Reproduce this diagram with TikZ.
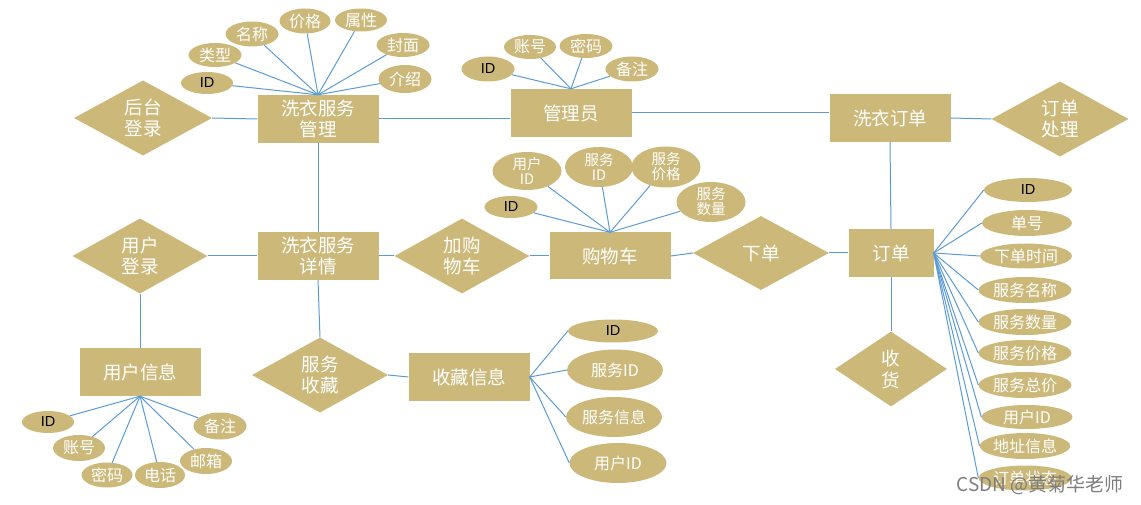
\documentclass[tikz,border=0pt]{standalone}
\usepackage{fontspec}
\setmainfont{Liberation Sans}
\newfontfamily\cjk{Noto Sans CJK SC}
\usetikzlibrary{shapes.geometric}
\definecolor{ertan}{RGB}{204,185,122}
\definecolor{erline}{RGB}{91,155,213}
\definecolor{wmgray}{RGB}{125,125,125}
\begin{document}
\begin{tikzpicture}[x=1pt,y=-1pt,
 ent/.style={rectangle,fill=ertan,inner sep=0pt,minimum width=121pt,minimum height=48pt,text=white,align=center,font=\cjk\fontsize{18.5}{21}\selectfont},
 rel/.style={diamond,fill=ertan,inner sep=0pt,minimum width=136pt,minimum height=75pt,text=white,align=center,font=\cjk\fontsize{18.5}{21}\selectfont},
 att/.style={ellipse,fill=ertan,inner sep=0pt,minimum width=53pt,minimum height=25pt,text=white,align=center,font=\cjk\fontsize{16}{18}\selectfont},
 att2/.style={att,inner sep=-3pt,font=\cjk\fontsize{14.5}{15}\selectfont},
 idt/.style={att,text=black,font=\fontsize{14.5}{16}\selectfont},
 link/.style={draw=erline,line width=1pt}]
\useasboundingbox (0,0) rectangle (1141,505);

% --- service management ---
\node[ent] (mgmt) at (318,119) {洗衣服务\\管理};
\node[rel,minimum width=138pt] (backlogin) at (143,118) {后台\\登录};
\node[idt,minimum width=52pt,minimum height=22pt] (m1) at (207,83) {ID};
\node[att,minimum height=24pt] (m2) at (215,55) {类型};
\node[att] (m3) at (252,34) {名称};
\node[att,minimum width=51pt] (m4) at (305,21) {价格};
\node[att,minimum width=52pt,minimum height=23pt] (m5) at (361,20) {属性};
\node[att,minimum height=24pt] (m6) at (403,45) {封面};
\node[att,minimum height=28pt] (m7) at (405,79) {介绍};

% --- admin ---
\node[ent] (admin) at (571,113) {管理员};
\node[idt] (a1) at (488,69) {ID};
\node[att,minimum width=52pt,minimum height=24pt] (a2) at (530,47) {账号};
\node[att,minimum height=24pt] (a3) at (586,46) {密码};
\node[att] (a4) at (632,69) {备注};

% --- laundry order ---
\node[ent] (washorder) at (890,118) {洗衣订单};
\node[rel,minimum width=137pt] (handle) at (1060,119) {订单\\处理};

% --- order ---
\node[ent,minimum width=85pt] (order) at (891,253) {订单};
\node[idt,minimum width=88pt,minimum height=24pt] (o1) at (1028,190) {ID};
\node[att,minimum width=90pt,minimum height=26pt] (o2) at (1027,223) {单号};
\node[att,minimum width=92pt] (o3) at (1026,256) {下单时间};
\node[att,minimum width=93pt,minimum height=26pt] (o4) at (1025,290) {服务名称};
\node[att,minimum width=93pt,minimum height=26pt] (o5) at (1025,322) {服务数量};
\node[att,minimum width=93pt,minimum height=26pt] (o6) at (1025,353) {服务价格};
\node[att,minimum width=93pt,minimum height=26pt] (o7) at (1025,385) {服务总价};
\node[att,minimum width=91pt,minimum height=24pt] (o8) at (1027,417) {用户ID};
\node[att,minimum width=85pt,minimum height=26pt] (o9) at (1025,446) {地址信息};
\node[att,minimum width=93pt] (o10) at (1025,478) {订单状态};
\node[rel,minimum width=112pt,font=\cjk\fontsize{18.5}{22}\selectfont] (receive) at (891,369) {收\\货};

% --- user / detail ---
\node[rel,minimum width=135pt,minimum height=74pt] (userlogin) at (140,256) {用户\\登录};
\node[ent] (detail) at (318,256) {洗衣服务\\详情};
\node[ent] (userinfo) at (140,372) {用户信息};
\node[idt,minimum width=52pt,minimum height=22pt] (u1) at (48,422) {ID};
\node[att,minimum width=52pt,minimum height=26pt] (u2) at (79,448) {账号};
\node[att,minimum width=51pt] (u3) at (107,475) {密码};
\node[att,minimum width=50pt,minimum height=26pt] (u4) at (160,475) {电话};
\node[att,minimum width=52pt,minimum height=26pt] (u5) at (206,461) {邮箱};
\node[att,minimum height=27pt] (u6) at (220,426) {备注};

% --- cart ---
\node[rel,minimum width=135pt] (addcart) at (462,256) {加购\\物车};
\node[ent,minimum height=47pt] (cart) at (610,256) {购物车};
\node[rel,minimum width=136pt,minimum height=74pt] (xiadan) at (761,253) {下单};
\node[idt,minimum height=22pt] (c1) at (511,207) {ID};
\node[att2,minimum width=69pt,minimum height=38pt] (c2) at (527,171) {用户\\ID};
\node[att2,minimum width=68pt,minimum height=40pt] (c3) at (599,167) {服务\\ID};
\node[att2,minimum width=69pt,minimum height=41pt] (c4) at (666,167) {服务\\价格};
\node[att2,minimum width=69pt,minimum height=40pt] (c5) at (711,202) {服务\\数量};

% --- favourites ---
\node[rel] (fav) at (320,375) {服务\\收藏};
\node[ent] (favinfo) at (469,377) {收藏信息};
\node[idt,minimum width=90pt,minimum height=23pt] (f1) at (613,331) {ID};
\node[att,minimum width=96pt,minimum height=41pt] (f2) at (615,370) {服务ID};
\node[att,minimum width=96pt,minimum height=40pt] (f3) at (614,417) {服务信息};
\node[att,minimum width=97pt,minimum height=40pt] (f4) at (618,463) {用户ID};

% --- connectors ---
\draw[link] (backlogin.east) -- (mgmt.west);
\foreach \a in {m1,m2,m3,m4,m5,m6,m7} \draw[link] (\a) -- (mgmt.north);
\draw[link] (mgmt.east) -- (mgmt.east -| admin.west);
\foreach \a in {a1,a2,a3,a4} \draw[link] (\a) -- (admin.north);
\draw[link] (admin.east) -- (admin.east -| washorder.west);
\draw[link] (washorder.east) -- (handle.west);
\draw[link] (washorder.south) -- (order.north);
\draw[link] (mgmt.south) -- (detail.north);
\draw[link] (userlogin.east) -- (detail.west);
\draw[link] (userlogin.south) -- (userinfo.north);
\foreach \a in {u1,u2,u3,u4,u5,u6} \draw[link] (\a) -- (userinfo.south);
\draw[link] (detail.east) -- (addcart.west);
\draw[link] (addcart.east) -- (cart.west);
\foreach \a in {c1,c2,c3,c4,c5} \draw[link] (\a) -- (cart.north);
\draw[link] (cart.east) -- (xiadan.west);
\draw[link] (xiadan.east) -- (order.west);
\foreach \a in {o1,o2,o3,o4,o5,o6,o7,o8,o9,o10} \draw[link] (order.east) -- (\a.west);
\draw[link] (order.south) -- (receive.north);
\draw[link] (detail.south) -- (fav.north);
\draw[link] (fav.east) -- (favinfo.west);
\foreach \a in {f1,f2,f3,f4} \draw[link] (favinfo.east) -- (\a.west);

% watermark
\node[font=\cjk\fontsize{19}{19}\selectfont,text=wmgray] (wm) at (1040,485) {CSDN @黄菊华老师};
\end{tikzpicture}
\end{document}
